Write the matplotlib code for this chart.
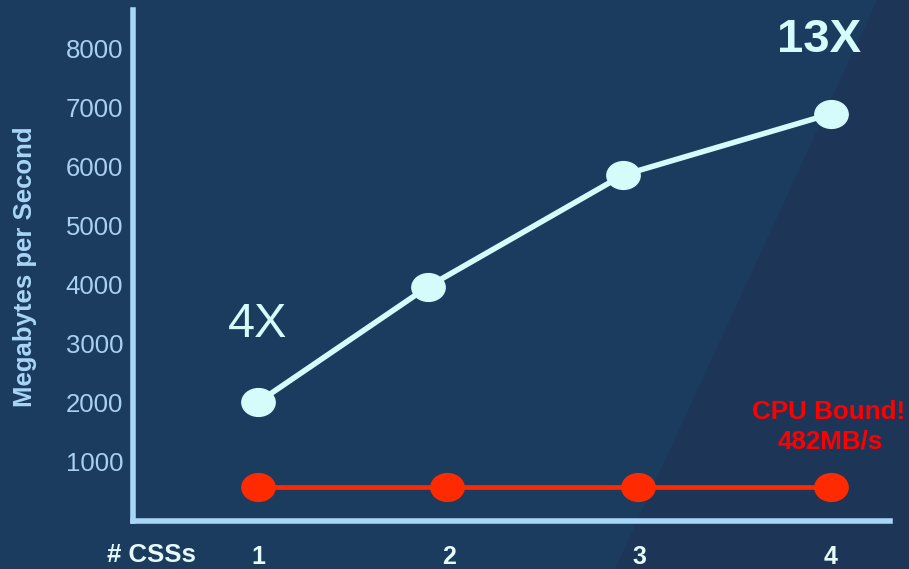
import numpy as np
import matplotlib.pyplot as plt
from matplotlib.path import Path
from matplotlib.patches import Polygon
import matplotlib.transforms as mtransforms

plt.rcParams['font.family'] = ['Liberation Sans', 'DejaVu Sans']

# values
x_striped = [1, 1.89, 2.91, 4]
mbps_striped = [2010, 3970, 5860, 6900]
x_cpu = [1, 1.99, 2.99, 4]
mbps_cpu = [580, 580, 580, 580]
x_ticks = [1, 2, 3, 4]
x_ticklabels = ["1", "2", "3", "4"]
y_ticks = [1000, 2000, 3000, 4000, 5000, 6000, 7000, 8000]

bg = "#1b3c5e"
axis_col = "#a9d5f7"
light = "#d6fbfb"
red = "#ff2a00"

# slightly wide ellipse marker like the slide
ell = Path.unit_circle().transformed(mtransforms.Affine2D().scale(1.2, 1.0))

fig = plt.figure(figsize=(9.09, 5.69), dpi=100, facecolor=bg)
# darker diagonal band on the right of the slide
fig.patches.append(Polygon([[877/909, 1], [1, 1], [1, 0], [615/909, 0]], closed=True,
                           transform=fig.transFigure, facecolor="#1d3658", edgecolor="none", zorder=0))

ax = fig.add_axes([133/909, 48/569, (890-133)/909, (521-10)/569])
ax.set_zorder(2)
ax.set_facecolor("none")
ax.set_xlim(0.346, 4.31)
ax.set_ylim(0, 8660)

ax.plot(x_striped, mbps_striped, color=light, lw=4, marker=ell, ms=24, zorder=3, clip_on=False)
ax.plot(x_cpu, mbps_cpu, color=red, lw=3.4, marker=ell, ms=24, zorder=3, clip_on=False)

for s in ["top", "right"]:
    ax.spines[s].set_visible(False)
for s in ["left", "bottom"]:
    ax.spines[s].set_color(axis_col)
    ax.spines[s].set_linewidth(4)

ax.set_yticks(y_ticks)
ax.set_yticklabels([str(v) for v in y_ticks], fontsize=18.5, color="#a8d0f2")
ax.set_xticks(x_ticks)
ax.set_xticklabels(x_ticklabels, fontsize=18, fontweight="bold", color="#e6fafa")
ax.tick_params(axis="y", length=0, pad=7)
ax.tick_params(axis="x", length=0, pad=17)

fig.text(25/909, 1 - 267/569, "Megabytes per Second", rotation=90, ha="center", va="center",
         fontsize=18.5, fontweight="bold", color=axis_col)
fig.text(151/909, 1 - 555/569, "# CSSs", ha="center", va="center",
         fontsize=18.5, fontweight="bold", color="#e6fafa")

ax.text(1.0, 3330, "4X", ha="center", va="center", fontsize=35, color=light)
ax.text(3.94, 8150, "13X", ha="center", va="center", fontsize=34, fontweight="bold", color=light)
ax.text(3.99, 1850, "CPU Bound!", ha="center", va="center", fontsize=18.7, fontweight="bold", color="#ff0000")
ax.text(4.0, 1340, "482MB/s", ha="center", va="center", fontsize=18.7, fontweight="bold", color="#ff0000")

fig.savefig("out.png", dpi=100, facecolor=bg)
